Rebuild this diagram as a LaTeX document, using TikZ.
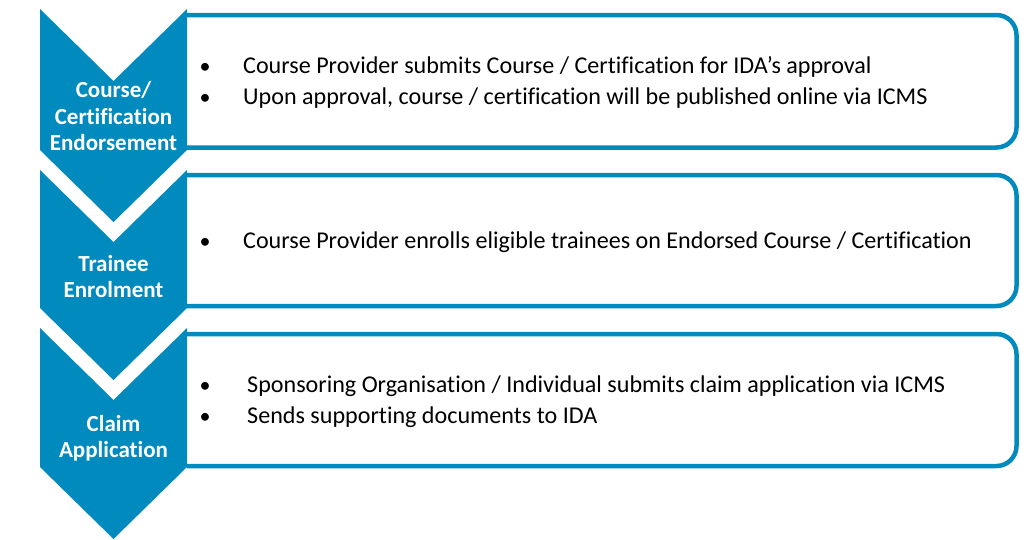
\documentclass[tikz,border=0pt]{standalone}
\usepackage{fontspec}
\setmainfont{Carlito}[Ligatures=CommonOff]
\usepackage{tikz}
\definecolor{idablue}{RGB}{0,138,190}
\tikzstyle{chev}=[fill=idablue, draw=none]
\tikzstyle{panel}=[draw=idablue, line width=4.5pt, rounded corners=20pt, fill=white]
\tikzstyle{chevtext}=[text=white, align=center, inner sep=0pt,
  font=\bfseries\fontsize{23}{26.5}\selectfont]
\tikzstyle{item}=[anchor=base west, inner sep=0pt, font=\fontsize{24.1}{31}\selectfont]
\tikzstyle{bul}=[anchor=base, inner sep=0pt, font=\fontsize{22}{31}\selectfont]

\begin{document}
\begin{tikzpicture}[x=1pt, y=-1pt]
      \useasboundingbox[fill=white] (0,0) rectangle (1033,539);

      % panels: square on the left, the chevron closes them
      \draw[panel] (187,15) -- (1016.5,15) -- (1016.5,147.5) -- (187,147.5);
      \draw[panel] (187,175) -- (1016.5,175) -- (1016.5,306) -- (187,306);
      \draw[panel] (187,334) -- (1016.5,334) -- (1016.5,466) -- (187,466);

      \foreach \t/\b in {9/150, 170/308, 328/467}{
        \fill[chev] (40,\t) -- (113.5,\t+72) -- (187,\t) -- (187,\b)
          -- (113.5,\b+72) -- (40,\b) -- cycle;
      }

      \node[chevtext] (endorse) at (113.5,116.5) {Course/\\Certification\\Endorsement};
      \node[chevtext] (enrol) at (113.5,276.5) {Trainee\\Enrolment};
      \node[chevtext] (claim) at (113.5,438) {Claim\\Application};

      \node[bul] (b1) at (205,73) {•};
      \node[item] (submit) at (243,73) {Course Provider submits Course / Certification for IDA’s approval};
      \node[bul] (b2) at (205,104) {•};
      \node[item] (publish) at (243,104) {Upon approval, course / certification will be published online via ICMS};

      \node[bul] (b3) at (205,248) {•};
      \node[item] (enrolls) at (243,248) {Course Provider enrolls eligible trainees on Endorsed Course / Certification};

      \node[bul] (b4) at (205,392) {•};
      \node[item] (apply) at (247,392) {Sponsoring Organisation / Individual submits claim application via ICMS};
      \node[bul] (b5) at (205,423) {•};
      \node[item] (docs) at (247,423) {Sends supporting documents to IDA};
\end{tikzpicture}
\end{document}
